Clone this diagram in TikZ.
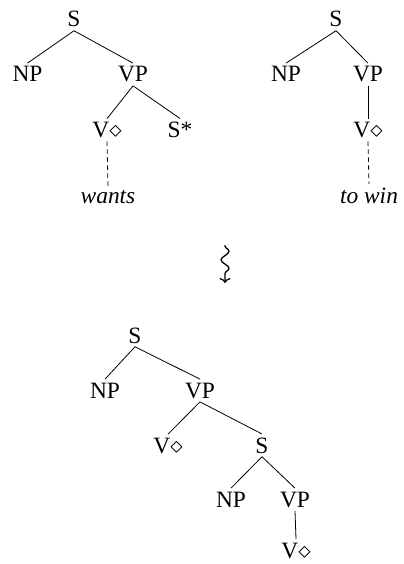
\documentclass[tikz,border=0pt]{standalone}
\usepackage{amsmath,amssymb}
\usepackage{fontspec}
\setmainfont{Liberation Serif}
\usetikzlibrary{positioning,arrows.meta,decorations.pathmorphing}
\tikzset{
  cat/.style={font=\fontsize{23.5}{27}\selectfont,anchor=base},
  lex/.style={cat,font=\fontsize{23.5}{27}\selectfont\itshape},
  branch/.style={line width=0.8bp},
  spine/.style={branch,dash pattern=on 4.5bp off 3.5bp},
  derive/.style={line width=1.3bp,-{To[length=5bp,width=11bp]},
    decorate,decoration={snake,amplitude=4bp,segment length=17bp,pre length=1bp,post length=6bp}},
}
\newcommand{\anc}{V$\diamond$}
\newcommand{\foot}{S*}

\begin{document}
\begin{tikzpicture}[x=1bp,y=-1bp]
  \useasboundingbox (0,0) rectangle (403,564);
  % ---------- elementary tree: wants ----------
  \node[cat] (wS)  at (74,27)     {S};
  \node[cat] (wNP) at (27.5,82)   {NP};
  \node[cat] (wVP) at (133,82)    {VP};
  \node[cat] (wV)  at (107,137.5) {\anc};
  \node[cat] (wFt) at (180,137.5) {\foot};
  \node[lex] (wLx) at (108,203)   {wants};
  \draw[branch] (wS.south) -- (wNP.north);
  \draw[branch] (wS.south) -- (wVP.north);
  \draw[branch] (wVP.south) -- (wV.north);
  \draw[branch] (wVP.south) -- (wFt.north);
  \draw[spine] (wV.south) -- (wLx.north);
  % ---------- elementary tree: to win ----------
  \node[cat] (tS)  at (336,27)    {S};
  \node[cat] (tNP) at (286,82)    {NP};
  \node[cat] (tVP) at (368,82)    {VP};
  \node[cat] (tV)  at (368,137.5) {\anc};
  \node[lex] (tLx) at (369,203)   {to win};
  \draw[branch] (tS.south) -- (tNP.north);
  \draw[branch] (tS.south) -- (tVP.north);
  \draw[branch] (tVP.south) -- (tV.north);
  \draw[spine] (tV.south) -- (tLx.north);
  % ---------- derivation step ----------
  \coordinate (stepA) at (225,245);
  \coordinate (stepB) at (225,283);
  \draw[derive] (stepA) -- (stepB);
  % ---------- derived tree ----------
  \node[cat] (dS)   at (135,343) {S};
  \node[cat] (dNP)  at (105,398) {NP};
  \node[cat] (dVP)  at (200,398) {VP};
  \node[cat] (dV)   at (168,453) {\anc};
  \node[cat] (dS2)  at (262,453) {S};
  \node[cat] (dNP2) at (231,507) {NP};
  \node[cat] (dVP2) at (295,507) {VP};
  \node[cat] (dV2)  at (296,558) {\anc};
  \draw[branch] (dS.south) -- (dNP.north);
  \draw[branch] (dS.south) -- (dVP.north);
  \draw[branch] (dVP.south) -- (dV.north);
  \draw[branch] (dVP.south) -- (dS2.north);
  \draw[branch] (dS2.south) -- (dNP2.north);
  \draw[branch] (dS2.south) -- (dVP2.north);
  \draw[branch] (dVP2.south) -- (dV2.north);
\end{tikzpicture}
\end{document}
